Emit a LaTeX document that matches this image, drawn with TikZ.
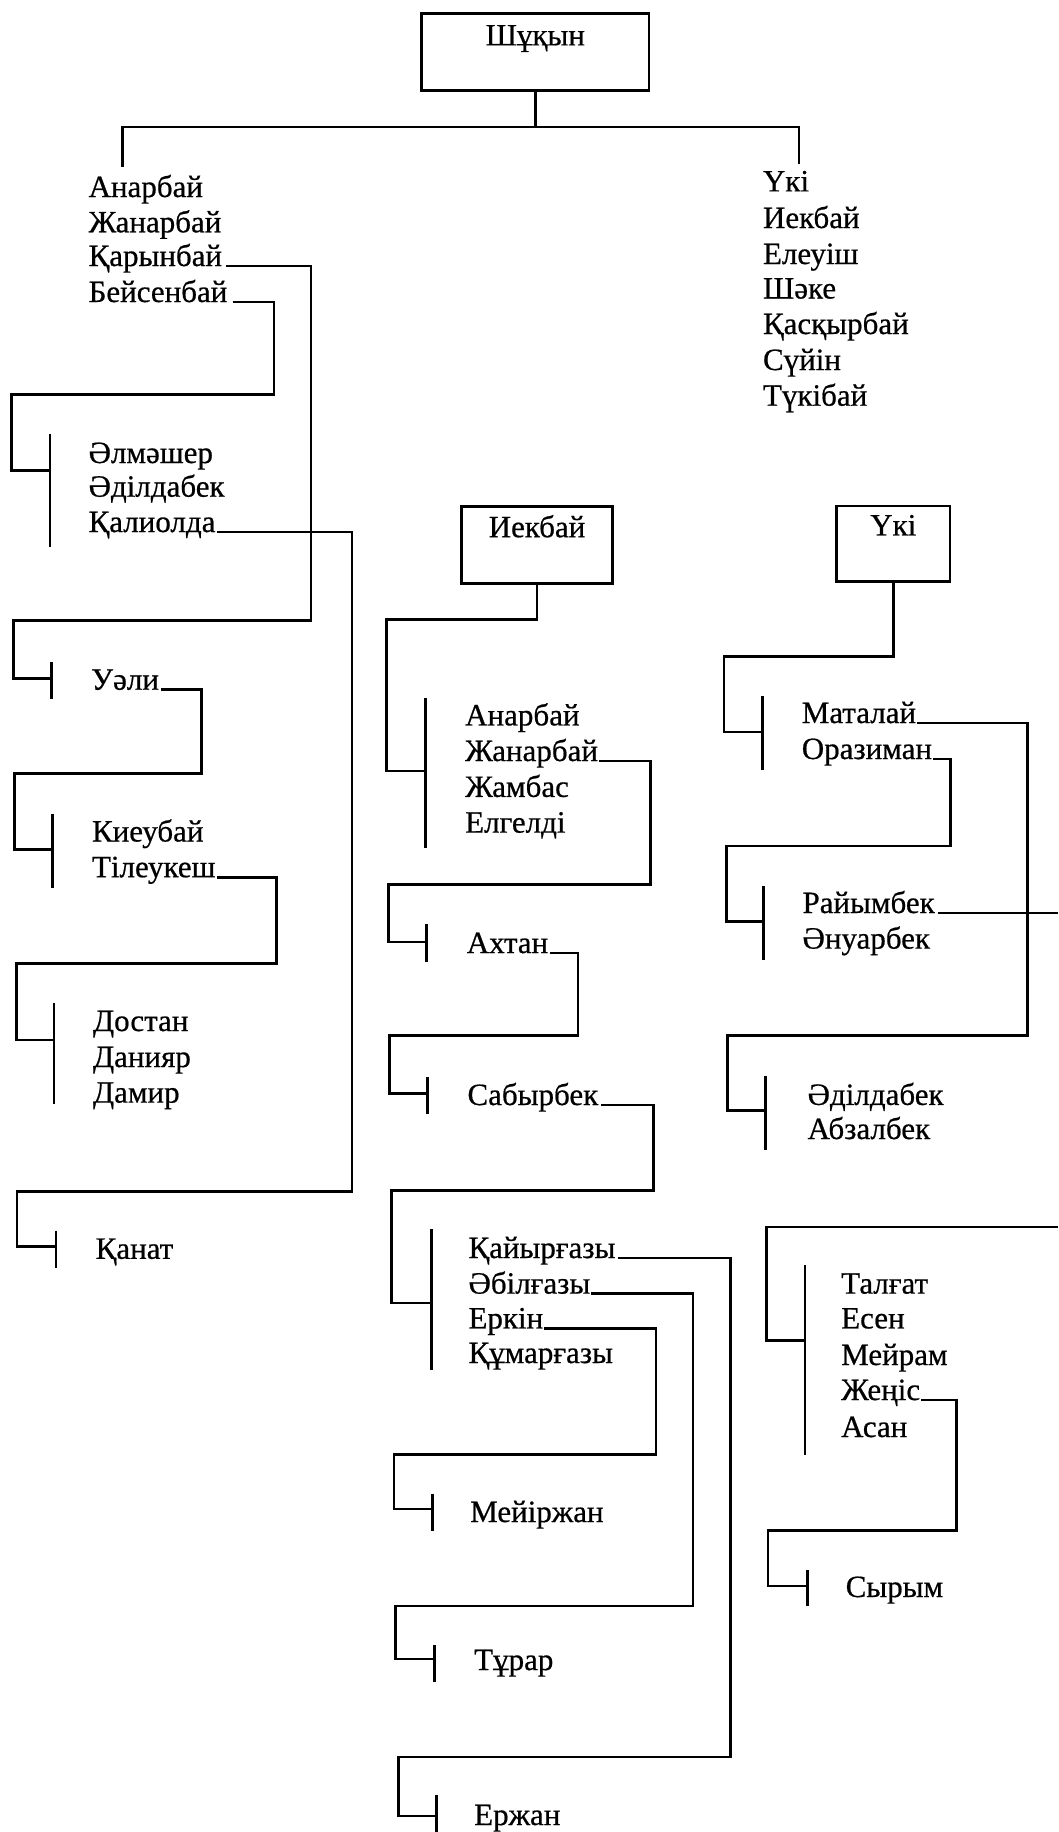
\documentclass[tikz,border=0pt]{standalone}
\usepackage{fontspec}
\setmainfont[FakeBold=0.6]{Liberation Serif}
\newfontfamily\nmfamily[FakeBold=0.6]{Liberation Serif}
\newcommand\nmfont{\nmfamily\fontsize{31}{35}\selectfont}
\begin{document}
\begin{tikzpicture}[x=1pt,y=-1pt,
  nm/.style={font=\nmfont, inner sep=0pt, anchor=base west},
  conn/.style={line width=2.8pt, line join=miter, line cap=butt},
  box/.style={draw, line width=2.8pt, font=\nmfont, inner sep=0pt, anchor=north}]
\useasboundingbox (0,0) rectangle (1058,1832);

% ---------- top ----------
\node[box, minimum width=227.3pt, text height=32pt, text depth=45pt] (root) at (535.3,12) {Шұқын};
\coordinate (lft) at (122.5,166.5);
\coordinate (rgt) at (799,164);
\draw[conn] (root.south) -- (535.3,127);
\draw[conn] (lft) -- (122.5,127) -- (799,127) -- (rgt);

% left list
\node[nm] (anarbay) at (88.4,197) {Анарбай};
\node[nm] (zhanarbay) at (88.4,232.3) {Жанарбай};
\node[nm] (karynbay) at (88.4,266) {Қарынбай};
\node[nm] (beisenbay) at (88.4,302) {Бейсенбай};

% right list
\node[nm] (uki) at (762.8,191.4) {Үкі};
\node[nm] (iek) at (762.8,228) {Иекбай};
\node[nm] (eleuish) at (762.8,264) {Елеуіш};
\node[nm] (shake) at (762.8,298.5) {Шәке};
\node[nm] (kaskyr) at (762.8,334) {Қасқырбай};
\node[nm] (suyin) at (762.8,370) {Сүйін};
\node[nm] (tukibay) at (762.8,405.7) {Түкібай};

% ---------- left column ----------
\node[nm] (almasher) at (88.4,463) {Әлмәшер};
\node[nm] (adildabek) at (88.4,496.7) {Әділдабек};
\node[nm] (kaliolda) at (88.4,532) {Қалиолда};
\coordinate (jb) at (50,470.7);
\draw[conn] ([xshift=5pt]beisenbay.base east) -- (274,302) -- (274,394.2) -- (11.8,394.2) |- (jb);
\draw[conn] (50,433.6) -- (50,546.5);

\node[nm] (uali) at (91,689.7) {Уәли};
\coordinate (ju) at (51.3,678.6);
\draw[conn] ([xshift=4pt]karynbay.base east) -- (311,266) -- (311,620.5) -- (13.5,620.5) |- (ju);
\draw[conn] (51.3,661.6) -- (51.3,698.6);

\node[nm] (kieubay) at (91.8,841.5) {Киеубай};
\node[nm] (tileukesh) at (91.8,877.2) {Тілеукеш};
\coordinate (jk) at (52.3,849.5);
\draw[conn] ([xshift=2pt]uali.base east) -- (201.8,689.7) -- (201.8,773.2) -- (14.2,773.2) |- (jk);
\draw[conn] (52.3,813.8) -- (52.3,888.4);

\node[nm] (dostan) at (92.8,1031) {Достан};
\node[nm] (daniyar) at (92.8,1067) {Данияр};
\node[nm] (damir) at (92.8,1102.6) {Дамир};
\coordinate (jd) at (54,1040);
\draw[conn] ([xshift=1pt]tileukesh.base east) -- (276.7,877.2) -- (276.7,963.4) -- (16.2,963.4) |- (jd);
\draw[conn] (54,1003) -- (54,1103.5);

\node[nm] (kanat) at (95.5,1258.8) {Қанат};
\coordinate (jq) at (56,1246.6);
\draw[conn] ([xshift=1pt]kaliolda.base east) -- (352,532) -- (352,1191.3) -- (16.9,1191.3) |- (jq);
\draw[conn] (56,1230.5) -- (56,1268.3);

% ---------- middle column ----------
\node[box, minimum width=150.7pt, text height=30.8pt, text depth=45.9pt] (iekbay) at (537,505) {Иекбай};
\node[nm] (manarbay) at (465,725.4) {Анарбай};
\node[nm] (mzhanarbay) at (465,761) {Жанарбай};
\node[nm] (zhambas) at (465,796.9) {Жамбас};
\node[nm] (elgeldi) at (465,832.6) {Елгелді};
\coordinate (jm1) at (425.8,771);
\draw[conn] (iekbay.south) -- (537,619.6) -- (386.3,619.6) |- (jm1);
\draw[conn] (425.8,697.8) -- (425.8,848.2);

\node[nm] (akhtan) at (466.6,953) {Ахтан};
\coordinate (jm2) at (426.8,942);
\draw[conn] ([xshift=1pt]mzhanarbay.base east) -- (650.5,761) -- (650.5,884.8) -- (388.7,884.8) |- (jm2);
\draw[conn] (426.8,924) -- (426.8,962);

\node[nm] (sabyrbek) at (467.3,1105) {Сабырбек};
\coordinate (jm3) at (427.8,1093.7);
\draw[conn] ([xshift=2pt]akhtan.base east) -- (578,953) -- (578,1035.7) -- (389.7,1035.7) |- (jm3);
\draw[conn] (427.8,1077) -- (427.8,1113.8);

\node[nm] (kaiyrgazy) at (468.3,1258) {Қайырғазы};
\node[nm] (abilgazy) at (468.3,1293.6) {Әбілғазы};
\node[nm] (erkin) at (468.3,1328.4) {Еркін};
\node[nm] (kumargazy) at (468.3,1363) {Құмарғазы};
\coordinate (jm4) at (431.2,1303);
\draw[conn] ([xshift=3pt]sabyrbek.base east) -- (653.5,1105) -- (653.5,1190.5) -- (391.4,1190.5) |- (jm4);
\draw[conn] (431.2,1229) -- (431.2,1369.7);

\node[nm] (meirzhan) at (470,1522) {Мейіржан};
\coordinate (jm5) at (432.5,1508.9);
\draw[conn] ([xshift=1pt]erkin.base east) -- (656,1328.4) -- (656,1454.5) -- (394,1454.5) |- (jm5);
\draw[conn] (432.5,1493.7) -- (432.5,1530.6);

\node[nm] (turar) at (474,1670) {Тұрар};
\coordinate (jm6) at (434.6,1659);
\draw[conn] ([xshift=1pt]abilgazy.base east) -- (693,1293.6) -- (693,1606) -- (395.4,1606) |- (jm6);
\draw[conn] (434.6,1645) -- (434.6,1681.6);

\node[nm] (erzhan) at (474,1825) {Ержан};
\coordinate (jm7) at (436.7,1816);
\draw[conn] ([xshift=2pt]kaiyrgazy.base east) -- (730.5,1258) -- (730.5,1757) -- (398.3,1757) |- (jm7);
\draw[conn] (436.7,1795) -- (436.7,1832);

% ---------- right column ----------
\node[box, minimum width=113.5pt, text height=29.5pt, text depth=46.4pt] (ukibox) at (893.3,504.5) {Үкі};
\node[nm] (matalai) at (801.6,723) {Маталай};
\node[nm] (oraziman) at (801.6,759) {Оразиман};
\coordinate (jr1) at (762.5,732);
\draw[conn] (ukibox.south) -- (893.3,656.2) -- (724,656.2) |- (jr1);
\draw[conn] (762.5,696.4) -- (762.5,770);

\node[nm] (raiymbek) at (802.3,913) {Райымбек};
\node[nm] (anuarbek) at (802.3,948.6) {Әнуарбек};
\coordinate (jr2) at (763.5,921.8);
\draw[conn] ([xshift=1pt]oraziman.base east) -- (950.8,759) -- (950.8,846) -- (726.4,846) |- (jr2);
\draw[conn] (763.5,886) -- (763.5,959.8);

\coordinate (edgeA) at (1058,913);
\draw[conn] ([xshift=3pt]raiymbek.base east) -- (edgeA);

\node[nm] (adildabek2) at (807.4,1104.9) {Әділдабек};
\node[nm] (abzalbek) at (807.4,1139) {Абзалбек};
\coordinate (jr3) at (765.2,1110.7);
\draw[conn] ([xshift=1pt]matalai.base east) -- (1027.7,723) -- (1027.7,1035.5) -- (727.4,1035.5) |- (jr3);
\draw[conn] (765.2,1075.9) -- (765.2,1149.5);

\node[nm] (talgat) at (841,1293.6) {Талғат};
\node[nm] (esen) at (841,1328.4) {Есен};
\node[nm] (meiram) at (841,1365) {Мейрам};
\node[nm] (zhenis) at (841,1400) {Жеңіс};
\node[nm] (asan) at (841,1437) {Асан};
\coordinate (edgeB) at (1058,1227);
\coordinate (jr4) at (805,1340.5);
\draw[conn] (edgeB) -- (766.2,1227) |- (jr4);
\draw[conn] (805,1265) -- (805,1454.5);

\node[nm] (syrym) at (845.5,1597) {Сырым};
\coordinate (jr5) at (807.4,1586);
\draw[conn] ([xshift=1pt]zhenis.base east) -- (956.8,1400) -- (956.8,1530.6) -- (767.9,1530.6) |- (jr5);
\draw[conn] (807.4,1569.8) -- (807.4,1606);
\end{tikzpicture}
\end{document}
